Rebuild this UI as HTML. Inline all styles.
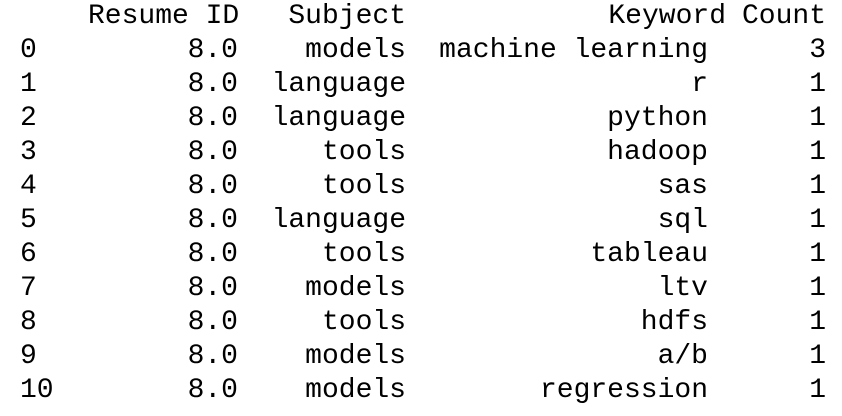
<!DOCTYPE html>
<html><head><style>
body{margin:0;width:842px;height:416px;background:#fff;overflow:hidden}
.r{position:absolute;left:0;height:34px;width:842px;font-family:"Liberation Mono",monospace;font-size:28px;line-height:34px;color:#000}
.r span{position:absolute;top:0;white-space:pre}
.i{left:20px}.a{right:calc(842px - 238px)}.b{right:calc(842px - 406px)}.c{right:calc(842px - 708px)}.d{right:calc(842px - 826px)}
</style></head><body>
<div class="r" style="top:0"><span style="left:88px">Resume ID</span><span class="b">Subject</span><span style="right:116px">Keyword</span><span class="d">Count</span></div>
<div class="r" style="top:34px"><span class="i">0</span><span class="a">8.0</span><span class="b">models</span><span class="c">machine learning</span><span class="d">3</span></div>
<div class="r" style="top:68px"><span class="i">1</span><span class="a">8.0</span><span class="b">language</span><span class="c">r</span><span class="d">1</span></div>
<div class="r" style="top:102px"><span class="i">2</span><span class="a">8.0</span><span class="b">language</span><span class="c">python</span><span class="d">1</span></div>
<div class="r" style="top:136px"><span class="i">3</span><span class="a">8.0</span><span class="b">tools</span><span class="c">hadoop</span><span class="d">1</span></div>
<div class="r" style="top:170px"><span class="i">4</span><span class="a">8.0</span><span class="b">tools</span><span class="c">sas</span><span class="d">1</span></div>
<div class="r" style="top:204px"><span class="i">5</span><span class="a">8.0</span><span class="b">language</span><span class="c">sql</span><span class="d">1</span></div>
<div class="r" style="top:238px"><span class="i">6</span><span class="a">8.0</span><span class="b">tools</span><span class="c">tableau</span><span class="d">1</span></div>
<div class="r" style="top:272px"><span class="i">7</span><span class="a">8.0</span><span class="b">models</span><span class="c">ltv</span><span class="d">1</span></div>
<div class="r" style="top:306px"><span class="i">8</span><span class="a">8.0</span><span class="b">tools</span><span class="c">hdfs</span><span class="d">1</span></div>
<div class="r" style="top:340px"><span class="i">9</span><span class="a">8.0</span><span class="b">models</span><span class="c">a/b</span><span class="d">1</span></div>
<div class="r" style="top:374px"><span class="i">10</span><span class="a">8.0</span><span class="b">models</span><span class="c">regression</span><span class="d">1</span></div>
</body></html>
